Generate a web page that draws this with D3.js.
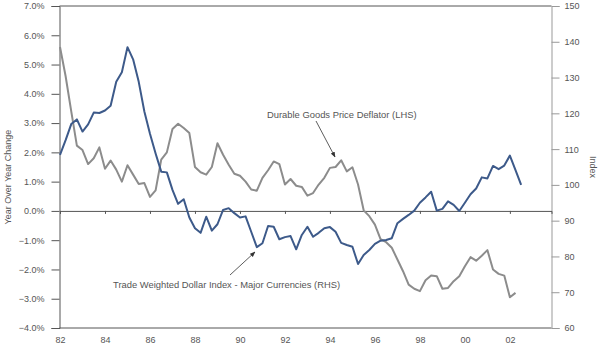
<!DOCTYPE html>
<html><head><meta charset="utf-8">
<script src="https://cdn.jsdelivr.net/npm/d3@7"></script>
<style>body{margin:0;background:#fff}svg{display:block}text{font-family:"Liberation Sans",Arial,sans-serif}</style>
</head><body><svg id="c" width="600" height="349"></svg>
<script>
// Quarterly data, 1982Q1 onward
const startYear = 1982;
const durableGoodsDeflator = [5.6,4.6,3.4,2.23,2.08,1.6,1.8,2.17,1.44,1.72,1.41,1.0,1.56,1.24,0.92,0.95,0.48,0.7,1.75,2.0,2.8,2.98,2.83,2.66,1.5,1.32,1.24,1.5,2.31,1.92,1.58,1.27,1.2,1.0,0.73,0.69,1.13,1.39,1.69,1.6,0.9,1.09,0.86,0.82,0.52,0.61,0.9,1.13,1.47,1.5,1.73,1.35,1.49,0.9,0.02,-0.18,-0.47,-0.96,-1.07,-1.26,-1.66,-2.06,-2.52,-2.66,-2.74,-2.37,-2.21,-2.23,-2.66,-2.63,-2.4,-2.23,-1.89,-1.58,-1.7,-1.53,-1.34,-2.0,-2.15,-2.21,-2.95,-2.8];
const tradeWeightedDollar = [108.4,112.5,117.0,118.3,114.9,116.9,120.2,120.1,120.8,122.1,128.8,131.5,138.5,135.1,128.8,120.5,114.3,108.8,103.7,103.5,98.6,94.7,96.0,90.9,87.9,86.6,91.1,87.2,89.0,93.0,93.5,92.1,90.9,91.2,86.9,82.6,83.7,88.5,88.3,84.8,85.4,85.7,82.0,86.0,88.3,85.5,86.6,87.9,88.2,86.9,83.8,83.2,82.7,77.9,80.4,81.8,83.5,84.4,84.6,85.1,89.3,90.5,91.6,92.8,95.0,96.5,98.1,92.8,93.3,95.4,94.4,92.7,95.0,97.4,99.0,102.1,101.8,105.3,104.4,105.4,108.2,104.1,100.0];
const xTicks = [1982,1984,1986,1988,1990,1992,1994,1996,1998,2000,2002];
const leftTicks = [-4,-3,-2,-1,0,1,2,3,4,5,6,7];
const rightTicks = [60,70,80,90,100,110,120,130,140,150];
const labels = {
  left: "Year Over Year Change",
  right: "Index",
  grey: "Durable Goods Price Deflator (LHS)",
  blue: "Trade Weighted Dollar Index - Major Currencies (RHS)"
};

const svg = d3.select("#c");
const L = 59.5, R = 551.5, T = 6, B = 328;
const x = d3.scaleLinear().domain([1982, 2003.85]).range([L + 0.5, R]);
const yL = d3.scaleLinear().domain([-4, 7]).range([B, T]);
const yR = d3.scaleLinear().domain([60, 150]).range([B, T]);
const axisCol = "#555", textCol = "#555";

// frame lines
svg.append("line").attr("x1", L).attr("x2", R).attr("y1", T).attr("y2", T).attr("stroke", axisCol);
svg.append("line").attr("x1", L).attr("x2", R).attr("y1", B).attr("y2", B).attr("stroke", axisCol);

// left axis
const gl = svg.append("g").attr("transform", `translate(${L},0)`)
  .call(d3.axisLeft(yL).tickValues(leftTicks).tickSize(8).tickPadding(7).tickFormat(d => d3.format(".1f")(d) + "%"));
// right axis
const gr = svg.append("g").attr("transform", `translate(${R},0)`)
  .call(d3.axisRight(yR).tickValues(rightTicks).tickSize(8).tickPadding(5).tickFormat(d3.format("d")));
// zero line ticks
const gz = svg.append("g").attr("transform", `translate(0,${yL(0)})`)
  .call(d3.axisBottom(x).tickValues(xTicks).tickSize(3).tickFormat(""));
// bottom labels
const gb = svg.append("g").attr("transform", `translate(0,${B})`)
  .call(d3.axisBottom(x).tickValues(xTicks).tickSize(0).tickPadding(9).tickFormat(d => String(d % 100).padStart(2, "0")));
gb.select(".domain").remove();
gz.select(".domain").attr("stroke", axisCol);
[gl, gr, gz, gb].forEach(g => {
  g.selectAll("text").attr("fill", textCol).style("font-size", "9px");
  g.selectAll(".tick line").attr("stroke", axisCol);
});
gl.select(".domain").attr("stroke", axisCol);
gr.select(".domain").attr("stroke", "#999");
gr.selectAll(".tick line").attr("stroke", "#999");

// lines
const tOf = i => startYear + i * 0.25;
svg.append("path").datum(durableGoodsDeflator)
  .attr("fill", "none").attr("stroke", "#8c8c8c").attr("stroke-width", 2).attr("stroke-linejoin", "round")
  .attr("d", d3.line().x((d, i) => x(tOf(i))).y(d => yL(d)));
svg.append("path").datum(tradeWeightedDollar)
  .attr("fill", "none").attr("stroke", "#3d5a8a").attr("stroke-width", 2).attr("stroke-linejoin", "round")
  .attr("d", d3.line().x((d, i) => x(tOf(i))).y(d => yR(d)));

// axis titles
svg.append("text").attr("transform", `translate(11,177) rotate(-90)`).attr("text-anchor", "middle")
  .attr("fill", textCol).style("font-size", "9px").text(labels.left);
svg.append("text").attr("transform", `translate(590,167) rotate(90)`).attr("text-anchor", "middle")
  .attr("fill", textCol).style("font-size", "9px").text(labels.right);

// annotations
const defs = svg.append("defs");
defs.append("marker").attr("id", "ah").attr("viewBox", "0 0 10 10").attr("refX", 9).attr("refY", 5)
  .attr("markerWidth", 7).attr("markerHeight", 7).attr("orient", "auto")
  .append("path").attr("d", "M0,1 L10,5 L0,9 Z").attr("fill", "#333");
svg.append("text").attr("x", 267).attr("y", 118).attr("fill", textCol).style("font-size", "9.4px").text(labels.grey);
svg.append("line").attr("x1", 316).attr("y1", 121).attr("x2", 335).attr("y2", 157)
  .attr("stroke", "#333").attr("stroke-width", 0.8).attr("marker-end", "url(#ah)");
svg.append("text").attr("x", 113).attr("y", 288).attr("fill", textCol).style("font-size", "9.4px").text(labels.blue);
svg.append("line").attr("x1", 230).attr("y1", 275).attr("x2", 255).attr("y2", 252)
  .attr("stroke", "#333").attr("stroke-width", 0.8).attr("marker-end", "url(#ah)");
</script></body></html>
